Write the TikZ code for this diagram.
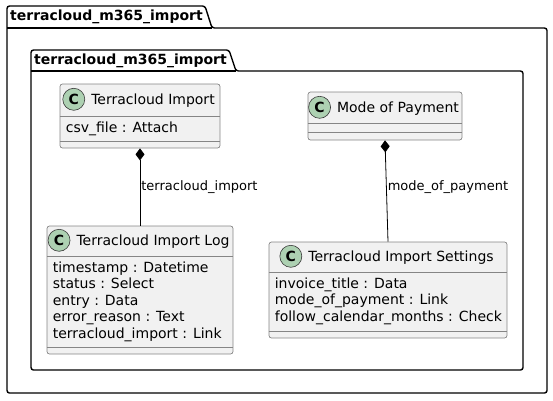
\documentclass[tikz,border=0pt]{standalone}
\usepackage{fontspec}
\setmainfont{DejaVu Sans}
\usepackage{tikz}
\usetikzlibrary{positioning}
\usetikzlibrary{calc,arrows.meta}

\definecolor{classbg}{HTML}{F1F1F1}
\definecolor{classline}{HTML}{858585}
\definecolor{iconline}{HTML}{383838}
\definecolor{iconbg}{HTML}{ADD1B2}

\tikzset{
	pkgline/.style={line width=1.4pt, black, rounded corners=2.5pt},
	pkgtitle/.style={font=\fontsize{14}{16}\selectfont\bfseries, inner sep=0pt, anchor=west},
	classbox/.style={draw=classline, fill=classbg, line width=0.7pt, rounded corners=2.5pt, inner sep=0pt},
	classsep/.style={draw=classline, line width=0.7pt},
	cname/.style={font=\fontsize{14}{16}\selectfont, inner sep=0pt, anchor=base},
	cattr/.style={font=\fontsize{14}{16.5}\selectfont, inner sep=0pt, anchor=north west, align=left},
	cicon/.style={circle, draw=iconline, fill=iconbg, line width=0.6pt, minimum size=22pt, inner sep=0pt, font=\fontsize{14}{16}\selectfont\bfseries},
	compose/.style={{Diamond[length=12pt,width=9pt]}-, line width=0.8pt, black},
	clabel/.style={font=\fontsize{13}{15}\selectfont, inner sep=1pt, anchor=west}
}

\begin{document}
\begin{tikzpicture}[x=1pt, y=-1pt]
	
	% ------------------------------------------------
	% Fix the dimensions of the graphic
	\useasboundingbox (0,0) rectangle (553,400);
	
	% ------------------------------------------------
	% Packages
	\draw[pkgline] (7,28) -- (7,6) -- (205,6) -- (212,28) -- (547,28) -- (547,393) -- (7,393) -- cycle;
	\draw[line width=1.4pt] (7,28) -- (212,28);
	\node[pkgtitle] (OuterTitle) at (10,17) {terracloud\_m365\_import};
	
	\draw[pkgline] (31,71) -- (31,50) -- (229,50) -- (236,71) -- (523,71) -- (523,370) -- (31,370) -- cycle;
	\draw[line width=1.4pt] (31,71) -- (236,71);
	\node[pkgtitle] (InnerTitle) at (34,60.5) {terracloud\_m365\_import};
	
	% ------------------------------------------------
	% Class boxes
	\node[classbox, minimum width=160pt, minimum height=64pt]  (ImportBox) at (140,116) {};
	\node[classbox, minimum width=186pt, minimum height=128pt] (LogBox)    at (140,290) {};
	\node[classbox, minimum width=154pt, minimum height=48pt]  (PayBox)    at (385,116) {};
	\node[classbox, minimum width=238pt, minimum height=96pt]  (SetBox)    at (388,290) {};
	
	% ----------------
	% Separators
	\draw[classsep] ($(ImportBox.north west)+(0,33)$) -- ($(ImportBox.north east)+(0,33)$);
	\draw[classsep] ($(ImportBox.south west)+(0,-7)$) -- ($(ImportBox.south east)+(0,-7)$);
	\draw[classsep] ($(LogBox.north west)+(0,31)$) -- ($(LogBox.north east)+(0,31)$);
	\draw[classsep] ($(LogBox.south west)+(0,-7)$) -- ($(LogBox.south east)+(0,-7)$);
	\draw[classsep] ($(PayBox.north west)+(0,32)$) -- ($(PayBox.north east)+(0,32)$);
	\draw[classsep] ($(PayBox.south west)+(0,-8)$) -- ($(PayBox.south east)+(0,-8)$);
	\draw[classsep] ($(SetBox.north west)+(0,31)$) -- ($(SetBox.north east)+(0,31)$);
	\draw[classsep] ($(SetBox.south west)+(0,-7)$) -- ($(SetBox.south east)+(0,-7)$);
	
	% ----------------
	% Class names and icons
	\node[cname] (ImportName) at ($(ImportBox.north)+(13,21)$) {Terracloud Import};
	\node[cname] (LogName)    at ($(LogBox.north)+(13,20)$)    {Terracloud Import Log};
	\node[cname] (PayName)    at ($(PayBox.north)+(13,21)$)    {Mode of Payment};
	\node[cname] (SetName)    at ($(SetBox.north)+(13,20)$)    {Terracloud Import Settings};
	
	\node[cicon, left=6pt of ImportName, yshift=1.5pt] (ImportIcon) {C};
	\node[cicon, left=6pt of LogName, yshift=1.5pt]    (LogIcon)    {C};
	\node[cicon, left=6pt of PayName, yshift=1.5pt]    (PayIcon)    {C};
	\node[cicon, left=6pt of SetName, yshift=1.5pt]    (SetIcon)    {C};
	
	% ----------------
	% Attributes
	\node[cattr] (ImportAttr) at ($(ImportBox.north west)+(6,38)$) {csv\_file : Attach};
	\node[cattr] (LogAttr)    at ($(LogBox.north west)+(6,36)$)
		{timestamp : Datetime\\status : Select\\entry : Data\\error\_reason : Text\\terracloud\_import : Link};
	\node[cattr] (SetAttr)    at ($(SetBox.north west)+(6,36)$)
		{invoice\_title : Data\\mode\_of\_payment : Link\\follow\_calendar\_months : Check};
	
	%%%%%%%%%%%%%%%%%%%%%%%%%%%%%%%%%%%%%%%%%
	% Compositions
	\draw[compose] (ImportBox.south) -- (LogBox.north) node[clabel, midway] (ImportLabel) {terracloud\_import};
	\draw[compose] (PayBox.south) -- (SetBox.north) node[clabel, pos=0.46] (PayLabel) {mode\_of\_payment};
	
\end{tikzpicture}
\end{document}
